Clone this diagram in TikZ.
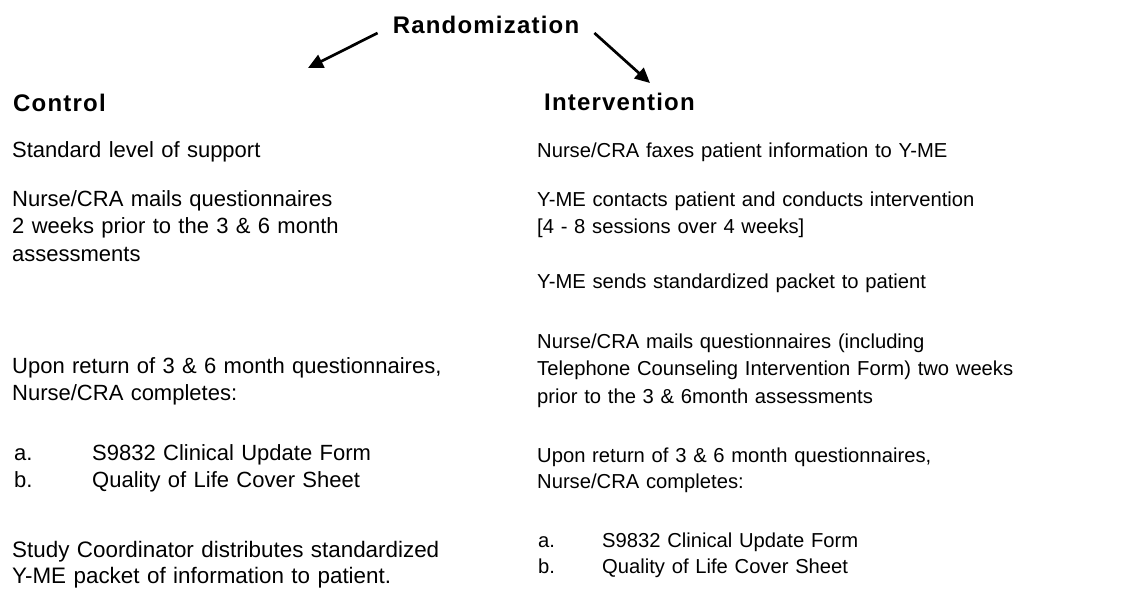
\documentclass[tikz,border=0pt]{standalone}
\usepackage{fontspec}
\setmainfont{Liberation Sans}
\newfontfamily\hdfont[LetterSpace=5]{Liberation Sans}
\usetikzlibrary{arrows.meta}
\begin{document}
\begin{tikzpicture}[x=1pt,y=1pt,
  txt/.style={anchor=base west, inner sep=0pt, align=left, text width=490pt,
    font=\fontsize{22pt}{27.5pt}\selectfont},
  rtxt/.style={anchor=base west, inner sep=0pt, align=left, text width=570pt,
    font=\fontsize{20.2pt}{27.5pt}\selectfont},
  hd/.style={anchor=base west, inner sep=0pt,
    font=\hdfont\bfseries\fontsize{24pt}{28pt}\selectfont},
  arr/.style={line width=2.7pt, -{Triangle[length=15pt,width=14pt]}}]
\useasboundingbox[fill=white] (0,0) rectangle (1124,-606);

% top
\node[hd, anchor=base, inner xsep=15pt] (rand) at (486,-33) {Randomization};
\coordinate (ctip) at (308,-68);
\coordinate (itip) at (650,-83);
\draw[arr] (rand.base west) -- (ctip);
\draw[arr] (rand.base east) -- (itip);

% control column
\node[hd] (ctl) at (13,-111) {Control};
\node[txt] (c1) at (12,-157) {Standard level of support};
\node[txt] (c2) at (12,-206) {Nurse/CRA mails questionnaires\\2 weeks prior to the 3 \& 6 month\\assessments};
\node[txt] (c3) at (12,-373) {Upon return of 3 \& 6 month questionnaires,\\Nurse/CRA completes:};
\node[txt] (c4) at (14,-460) {\makebox[78pt][l]{a.}S9832 Clinical Update Form\\\makebox[78pt][l]{b.}Quality of Life Cover Sheet};
\node[txt, font=\fontsize{22.4pt}{26pt}\selectfont] (c5) at (12,-557) {Study Coordinator distributes standardized\\Y-ME packet of information to patient.};

% intervention column
\node[hd] (int) at (544,-110) {Intervention};
\node[rtxt] (i1) at (537,-157) {Nurse/CRA faxes patient information to Y-ME};
\node[rtxt] (i2) at (537,-206) {Y-ME contacts patient and conducts intervention\\{[}4 - 8 sessions over 4 weeks{]}};
\node[rtxt] (i3) at (537,-288) {Y-ME sends standardized packet to patient};
\node[rtxt] (i4) at (537,-348) {Nurse/CRA mails questionnaires (including\\Telephone Counseling Intervention Form) two weeks\\prior to the 3 \& 6month assessments};
\node[rtxt, font=\fontsize{20.2pt}{26pt}\selectfont] (i5) at (537,-462) {Upon return of 3 \& 6 month questionnaires,\\Nurse/CRA completes:};
\node[rtxt, font=\fontsize{20.2pt}{26pt}\selectfont] (i6) at (538,-547) {\makebox[64pt][l]{a.}S9832 Clinical Update Form\\\makebox[64pt][l]{b.}Quality of Life Cover Sheet};
\end{tikzpicture}
\end{document}
